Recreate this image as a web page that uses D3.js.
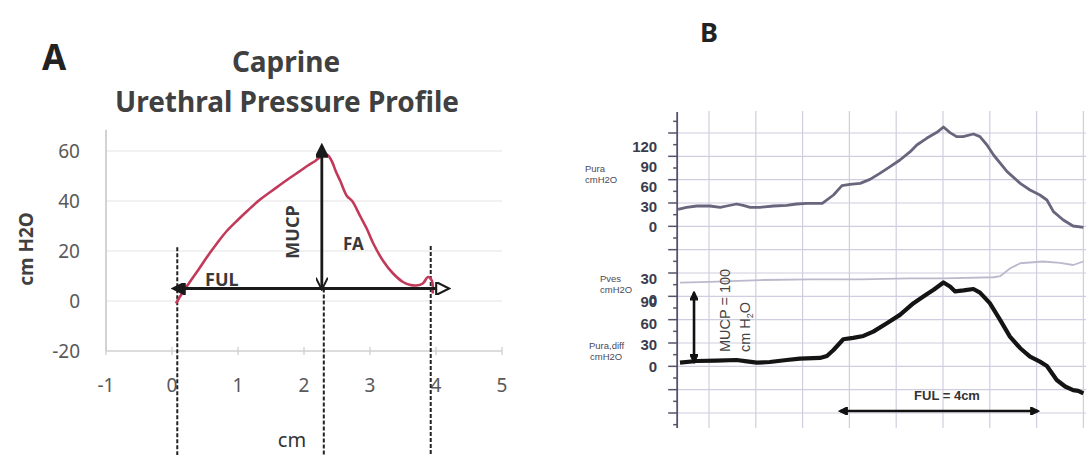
<!DOCTYPE html>
<html>
<head>
<meta charset="utf-8">
<script src="https://cdn.jsdelivr.net/npm/d3@7"></script>
<style>
  body { margin: 0; background: #fff; }
</style>
</head>
<body>
<div id="chart"></div>
<script>
// ===== DATA =====
// Panel A: caprine urethral pressure profile (cm vs cm H2O)
var caprineCm       = [0.06, 0.15, 0.27, 0.40, 0.53, 0.68, 0.83, 1.00, 1.14, 1.33, 1.50, 1.64, 1.80, 1.94, 2.06, 2.17, 2.27, 2.35, 2.42, 2.48, 2.55, 2.65, 2.73, 2.85, 2.95, 3.05, 3.20, 3.35, 3.50, 3.60, 3.70, 3.80, 3.88, 3.94, 3.95];
var caprinePressure = [-1, 3, 7.6, 12.5, 17.6, 23, 28, 32.5, 36, 40.5, 43.8, 46.5, 49.5, 52, 54.2, 56, 58, 58.5, 56, 52, 48, 42, 40, 34, 29, 23, 16, 11, 7.6, 6.5, 6.2, 7, 9.6, 8, 3];
var aXTicks = [-1, 0, 1, 2, 3, 4, 5];
var aYTicks = [-20, 0, 20, 40, 60];
var aFul    = [0.0, 4.18];      // cm, drawn at 5 cm H2O
var aMucp   = [2.27, 5, 62];    // cm, from, to
var aDashed = [[0.08, 21.5], [2.30, 5], [3.92, 22]];

// Panel B: recorded traces (cm along urethra)
var puraCm  = [0.34, 0.52, 0.74, 1.02, 1.24, 1.38, 1.59, 1.73, 1.88, 2.09, 2.38, 2.66, 2.87, 3.09, 3.42, 3.66, 3.84, 4.01, 4.23, 4.44, 4.65, 4.87, 5.08, 5.30, 5.44, 5.65, 5.87, 6.01, 6.15, 6.29, 6.43, 6.65, 6.79, 6.94, 7.08, 7.37, 7.65, 7.86, 8.07, 8.22, 8.36, 8.57, 8.78, 9.00];
var puraVal = [26.5, 29.5, 31.5, 31.5, 29.5, 31.5, 34.5, 32.5, 29.5, 29.5, 31.5, 32.5, 34.5, 35.5, 35.5, 48, 62, 64, 65.5, 71.5, 80.5, 90.5, 100.5, 113, 123, 133, 142, 150, 141.5, 135.5, 135.5, 139.5, 135.5, 123, 108, 83, 65.5, 55.5, 48, 40.5, 23, 10.5, 1.5, -0.5];

var pvesCm  = [0.38, 1.02, 2.09, 3.16, 4.23, 5.30, 6.01, 7.08, 7.22, 7.43, 7.65, 8.14, 8.50, 8.78, 9.00];
var pvesVal = [24.7, 26, 28.5, 29.5, 29.5, 31, 31, 32.5, 34, 45, 52.5, 55, 53, 50, 55];

var diffCm  = [0.38, 0.74, 1.16, 1.59, 1.81, 2.02, 2.30, 2.66, 2.94, 3.37, 3.52, 3.66, 3.87, 4.08, 4.30, 4.51, 4.80, 5.08, 5.37, 5.58, 5.80, 6.01, 6.15, 6.26, 6.44, 6.65, 6.79, 7.00, 7.22, 7.43, 7.65, 7.86, 8.07, 8.22, 8.43, 8.61, 8.78, 8.89, 9.00];
var diffVal = [6, 8.3, 8.8, 9.7, 7.9, 6, 6.9, 9.7, 11.5, 12.5, 15.3, 23.6, 38.4, 40.3, 43, 49, 60.7, 72.2, 88.4, 97.6, 107, 117, 111.5, 104.6, 106, 108, 103, 88.4, 65.3, 42, 26, 14.3, 7.4, 1.4, -18, -27, -32, -33, -36.5];

var bGridCols  = [1, 2, 3, 4, 5, 6, 7, 8, 9];
var bGridRows  = d3.range(0, 13);
var puraTicks  = [0, 30, 60, 90, 120];
var pvesTicks  = [0, 30];
var diffTicks  = [0, 30, 60, 90];
var bAxisCm    = 0.32;
var bMucp      = [0.68, 7, 103];   // cm, from, to (Pura,diff scale)
var bFul       = [3.80, 8.03, -61];

var w = 1086, h = 455;

var svg = d3.select("#chart")
            .append("svg")
            .attr("width", w)
            .attr("height", h);

var defs = svg.append("defs");

function addMarker(id, size, fill, stroke, closed)
{
  defs.append("marker")
      .attr("id", id)
      .attr("viewBox", "0 0 10 10")
      .attr("refX", 9)
      .attr("refY", 5)
      .attr("markerUnits", "userSpaceOnUse")
      .attr("markerWidth", size[0])
      .attr("markerHeight", size[1])
      .attr("orient", "auto-start-reverse")
      .append("path")
      .attr("d", closed ? "M0,0 L10,5 L0,10 Z" : "M0,0 L10,5 L0,10")
      .attr("fill", fill)
      .attr("stroke", stroke)
      .attr("stroke-width", 1.6);
}
addMarker("triFill", [15, 12], "#1a1a1a", "#1a1a1a", true);
addMarker("triOpen", [16, 13], "#fff", "#1a1a1a", true);
addMarker("vOpen", [14, 12], "none", "#1a1a1a", false);
addMarker("triSmall", [10, 8], "#111", "#111", true);

// ===== PANEL A =====
function panelA()
{
  var g = svg.append("g");

  var x = d3.scaleLinear().domain([-1, 5]).range([106, 502]);
  var y = d3.scaleLinear().domain([-20, 60]).range([351, 151]);

  // gridlines
  g.selectAll("line.grid")
   .data(aYTicks.slice(1))
   .enter()
   .append("line")
   .attr("x1", x(-1)).attr("x2", x(5))
   .attr("y1", function(d) { return y(d); })
   .attr("y2", function(d) { return y(d); })
   .attr("stroke", "#e4e4e4")
   .attr("stroke-width", 1.2);

  // axes lines
  g.append("line")
   .attr("x1", x(-1)).attr("x2", x(-1))
   .attr("y1", y(-20)).attr("y2", y(68.5))
   .attr("stroke", "#c4c4c4").attr("stroke-width", 1.5);
  g.append("line")
   .attr("x1", x(-1)).attr("x2", x(5))
   .attr("y1", y(-20)).attr("y2", y(-20))
   .attr("stroke", "#d0d0d0").attr("stroke-width", 1.5);

  g.selectAll("line.xtick")
   .data(aXTicks)
   .enter()
   .append("line")
   .attr("x1", function(d) { return x(d); })
   .attr("x2", function(d) { return x(d); })
   .attr("y1", y(-20) - 4).attr("y2", y(-20) + 4)
   .attr("stroke", "#cfcfcf").attr("stroke-width", 1.3);

  // tick labels
  g.selectAll("text.ylab")
   .data(aYTicks)
   .enter()
   .append("text")
   .attr("x", 80)
   .attr("y", function(d) { return y(d) + 7; })
   .attr("text-anchor", "end")
   .attr("font-family", "'Noto Sans', sans-serif")
   .attr("font-size", "19px")
   .attr("fill", "#595959")
   .text(function(d) { return d; });

  g.selectAll("text.xlab")
   .data(aXTicks)
   .enter()
   .append("text")
   .attr("x", function(d) { return x(d); })
   .attr("y", 392)
   .attr("text-anchor", "middle")
   .attr("font-family", "'Noto Sans', sans-serif")
   .attr("font-size", "19px")
   .attr("fill", "#595959")
   .text(function(d) { return d; });

  // dashed verticals
  g.selectAll("line.dash")
   .data(aDashed)
   .enter()
   .append("line")
   .attr("x1", function(d) { return x(d[0]); })
   .attr("x2", function(d) { return x(d[0]); })
   .attr("y1", function(d) { return y(d[1]); })
   .attr("y2", h)
   .attr("stroke", "#222")
   .attr("stroke-width", 2)
   .attr("stroke-dasharray", "4,2");

  // pressure curve
  var pts = caprineCm.map(function(d, i) { return [d, caprinePressure[i]]; });
  var line = d3.line()
               .x(function(d) { return x(d[0]); })
               .y(function(d) { return y(d[1]); })
               .curve(d3.curveCatmullRom);
  g.append("path")
   .attr("d", line(pts))
   .attr("fill", "none")
   .attr("stroke", "#c23a5a")
   .attr("stroke-width", 2.6);

  // FUL arrow
  g.append("line")
   .attr("x1", x(aFul[0]) + 2).attr("x2", x(aFul[1]))
   .attr("y1", y(5)).attr("y2", y(5))
   .attr("stroke", "#1a1a1a").attr("stroke-width", 2.8)
   .attr("marker-start", "url(#triFill)")
   .attr("marker-end", "url(#triOpen)");

  // MUCP arrow
  g.append("line")
   .attr("x1", x(aMucp[0])).attr("x2", x(aMucp[0]))
   .attr("y1", y(aMucp[1])).attr("y2", y(aMucp[2]))
   .attr("stroke", "#1a1a1a").attr("stroke-width", 2.8)
   .attr("marker-start", "url(#vOpen)")
   .attr("marker-end", "url(#triFill)");

  // labels in the plot
  g.append("text")
   .attr("x", x(0.5)).attr("y", y(6))
   .attr("font-family", "'Noto Sans', sans-serif")
   .attr("font-size", "18px").attr("font-weight", "bold")
   .attr("fill", "#3a3a3a")
   .text("FUL");
  g.append("text")
   .attr("transform", "translate(" + (x(1.82) + 7) + "," + y(27.6) + ") rotate(-90)")
   .attr("text-anchor", "middle")
   .attr("font-family", "'Noto Sans', sans-serif")
   .attr("font-size", "18px").attr("font-weight", "bold")
   .attr("fill", "#3a3a3a")
   .text("MUCP");
  g.append("text")
   .attr("x", x(2.59)).attr("y", y(20.4))
   .attr("font-family", "'Noto Sans', sans-serif")
   .attr("font-size", "17px").attr("font-weight", "bold")
   .attr("fill", "#3a3a3a")
   .text("FA");

  // titles
  g.append("text")
   .attr("x", 42).attr("y", 70)
   .attr("font-family", "'Noto Sans', sans-serif")
   .attr("font-size", "35px").attr("font-weight", "bold")
   .attr("fill", "#222")
   .text("A");
  g.append("text")
   .attr("x", 286).attr("y", 72)
   .attr("text-anchor", "middle")
   .attr("font-family", "'Noto Sans', sans-serif")
   .attr("font-size", "28px").attr("font-weight", "bold")
   .attr("fill", "#404040")
   .text("Caprine");
  g.append("text")
   .attr("x", 287).attr("y", 112)
   .attr("text-anchor", "middle")
   .attr("font-family", "'Noto Sans', sans-serif")
   .attr("font-size", "28px").attr("font-weight", "bold")
   .attr("fill", "#404040")
   .text("Urethral Pressure Profile");

  g.append("text")
   .attr("transform", "translate(33,249) rotate(-90)")
   .attr("text-anchor", "middle")
   .attr("font-family", "'Noto Sans', sans-serif")
   .attr("font-size", "19px").attr("font-weight", "bold")
   .attr("fill", "#404040")
   .text("cm H2O");
  g.append("text")
   .attr("x", 292).attr("y", 447)
   .attr("text-anchor", "middle")
   .attr("font-family", "'Noto Sans', sans-serif")
   .attr("font-size", "20px")
   .attr("fill", "#333")
   .text("cm");
}

// ===== PANEL B =====
function panelB()
{
  var g = svg.append("g");
  var font = "'Liberation Sans Narrow', 'Liberation Sans', sans-serif";

  var x = d3.scaleLinear().domain([0, 9]).range([662.2, 1083.4]);
  var row = d3.scaleLinear().domain([0, 12]).range([133, 413]);
  var yPura = d3.scaleLinear().domain([0, 150]).range([227, 127]);
  var yPves = d3.scaleLinear().domain([0, 30]).range([300, 279]);
  var yDiff = d3.scaleLinear().domain([0, 90]).range([367, 302]);

  // chart paper grid
  g.selectAll("line.vgrid")
   .data(bGridCols)
   .enter()
   .append("line")
   .attr("x1", function(d) { return x(d); })
   .attr("x2", function(d) { return x(d); })
   .attr("y1", 111).attr("y2", 428)
   .attr("stroke", "#cfcee0").attr("stroke-width", 1.2);
  g.selectAll("line.hgrid")
   .data(bGridRows)
   .enter()
   .append("line")
   .attr("x1", x(bAxisCm)).attr("x2", w)
   .attr("y1", function(d) { return row(d); })
   .attr("y2", function(d) { return row(d); })
   .attr("stroke", "#cfcee0").attr("stroke-width", 1.2);

  // axis with major/minor ticks
  g.append("line")
   .attr("x1", x(bAxisCm)).attr("x2", x(bAxisCm))
   .attr("y1", 112).attr("y2", 428)
   .attr("stroke", "#55536a").attr("stroke-width", 1.8);
  g.selectAll("line.tick")
   .data(d3.range(-0.5, 12.6, 0.5))
   .enter()
   .append("line")
   .attr("x1", function(d) { return x(bAxisCm) - (d % 1 === 0 ? 9 : 4); })
   .attr("x2", x(bAxisCm))
   .attr("y1", function(d) { return row(d); })
   .attr("y2", function(d) { return row(d); })
   .attr("stroke", "#55536a").attr("stroke-width", 1.5);

  // tick labels, right aligned next to the axis
  var labelX = x(bAxisCm) - 20;
  function tickLabels(ticks, scale, cls)
  {
    g.selectAll("text." + cls)
     .data(ticks)
     .enter()
     .append("text")
     .attr("class", cls)
     .attr("x", labelX)
     .attr("y", function(d) { return scale(d) + 5; })
     .attr("text-anchor", "end")
     .attr("font-family", font)
     .attr("font-size", "15px").attr("font-weight", "bold")
     .attr("fill", "#3d3c4c")
     .text(function(d) { return d; });
  }
  tickLabels(puraTicks, yPura, "tPura");
  tickLabels(pvesTicks, yPves, "tPves");
  tickLabels(diffTicks, yDiff, "tDiff");

  // channel names
  var names = [
    ["Pura", 585, 172], ["cmH2O", 585, 183],
    ["Pves", 600, 282], ["cmH2O", 600, 293],
    ["Pura,diff", 589, 349], ["cmH2O", 590, 360]
  ];
  g.selectAll("text.name")
   .data(names)
   .enter()
   .append("text")
   .attr("class", "name")
   .attr("x", function(d) { return d[1]; })
   .attr("y", function(d) { return d[2]; })
   .attr("font-family", font)
   .attr("font-size", "9.5px")
   .attr("fill", "#4a4a5a")
   .text(function(d) { return d[0]; });

  // traces
  function trace(cm, val, scale, color, width)
  {
    var line = d3.line()
                 .x(function(d) { return x(d[0]); })
                 .y(function(d) { return scale(d[1]); });
    g.append("path")
     .attr("d", line(cm.map(function(d, i) { return [d, val[i]]; })))
     .attr("fill", "none")
     .attr("stroke", color)
     .attr("stroke-width", width)
     .attr("stroke-linejoin", "round");
  }
  trace(pvesCm, pvesVal, yPves, "#bcb9cc", 1.8);
  trace(puraCm, puraVal, yPura, "#68657d", 2.8);
  trace(diffCm, diffVal, yDiff, "#141414", 4.2);

  // MUCP arrow
  g.append("line")
   .attr("x1", x(bMucp[0])).attr("x2", x(bMucp[0]))
   .attr("y1", yDiff(bMucp[1])).attr("y2", yDiff(bMucp[2]))
   .attr("stroke", "#111").attr("stroke-width", 2.6)
   .attr("marker-start", "url(#triSmall)")
   .attr("marker-end", "url(#triSmall)");

  var mt = g.append("text")
            .attr("transform", "translate(730,352) rotate(-90)")
            .attr("font-family", font)
            .attr("font-size", "14.5px")
            .attr("fill", "#444");
  mt.text("MUCP = 100");
  var ct = g.append("text")
            .attr("transform", "translate(750,352) rotate(-90)")
            .attr("font-family", font)
            .attr("font-size", "14.5px")
            .attr("fill", "#444");
  ct.append("tspan").text("cm H");
  ct.append("tspan").attr("font-size", "9px").attr("dy", 3).text("2");
  ct.append("tspan").attr("dy", -3).text("O");

  // FUL arrow
  g.append("line")
   .attr("x1", x(bFul[0])).attr("x2", x(bFul[1]))
   .attr("y1", yDiff(bFul[2])).attr("y2", yDiff(bFul[2]))
   .attr("stroke", "#111").attr("stroke-width", 2.6)
   .attr("marker-start", "url(#triSmall)")
   .attr("marker-end", "url(#triSmall)");
  g.append("text")
   .attr("x", 947).attr("y", 400)
   .attr("text-anchor", "middle")
   .attr("font-family", font)
   .attr("font-size", "13px").attr("font-weight", "bold")
   .attr("fill", "#333")
   .text("FUL = 4cm");

  g.append("text")
   .attr("x", 700).attr("y", 42)
   .attr("font-family", "'Noto Sans', sans-serif")
   .attr("font-size", "27px").attr("font-weight", "bold")
   .attr("fill", "#222")
   .text("B");
}

function init()
{
  panelA();
  panelB();
}

window.onload = init;
</script>
</body>
</html>
